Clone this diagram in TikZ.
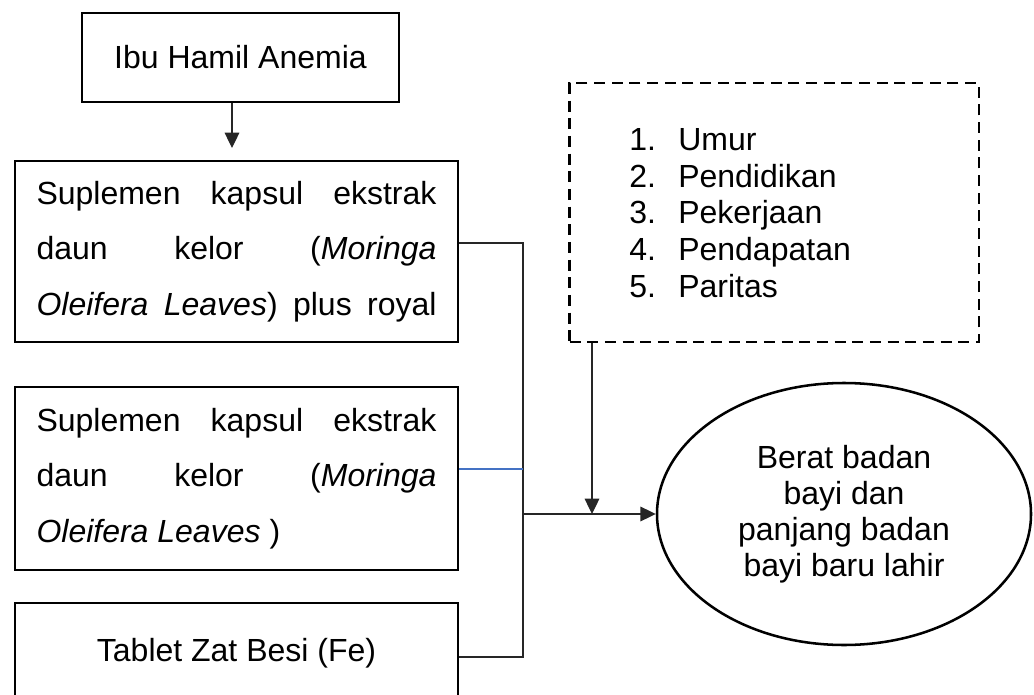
\documentclass[tikz,border=0pt]{standalone}
\usepackage{fontspec}
\setmainfont{Liberation Sans}
\usetikzlibrary{arrows.meta,shapes.geometric}
\definecolor{linkblue}{RGB}{68,114,196}
\begin{document}
\begin{tikzpicture}[x=0.75pt,y=-0.75pt,
  boxnode/.style={draw, line width=1.9pt, minimum width=332.25pt, inner sep=0pt, align=left, font=\fontsize{24pt}{41.6pt}\selectfont},
  conn/.style={line width=0.9pt, draw=black!85},
  arr/.style={conn, -{Triangle[length=11.5pt,width=11pt]}},
 ]
\useasboundingbox (0,0) rectangle (1034,695);
\fill[white] (0,0) rectangle (1034,695);

\node[draw, line width=1.9pt, minimum width=237.75pt, minimum height=66.75pt, inner sep=0pt, font=\fontsize{24pt}{27pt}\selectfont] (b1) at (240.5,57.5) {Ibu Hamil Anemia};

\node[boxnode, minimum height=135.75pt] (b2) at (236.5,251.5) {\makebox[300pt][s]{Suplemen\hfill kapsul\hfill ekstrak}\\ \makebox[300pt][s]{daun\hfill kelor\hfill (\textit{Moringa}}\\ \makebox[300pt][s]{\textit{Oleifera}\hfill\textit{Leaves})\hfill plus\hfill royal}};

\node[boxnode, minimum height=137.25pt] (b3) at (236.5,478.5) {\makebox[300pt][s]{Suplemen\hfill kapsul\hfill ekstrak}\\ \makebox[300pt][s]{daun\hfill kelor\hfill (\textit{Moringa}}\\ \makebox[300pt][l]{\textit{Oleifera Leaves} )}};

\node[boxnode, minimum height=76pt, align=center] (b4) at (236.5,653.7) {Tablet Zat Besi (Fe)};

\node[draw, line width=1.9pt, dash pattern=on 8.25pt off 5pt, minimum width=307pt, minimum height=194.25pt, inner sep=0pt] (dash) at (774.25,212.5) {};
\node[anchor=base west, inner sep=0pt, align=left, font=\fontsize{24pt}{27.5pt}\selectfont] (list) at (629,297) {\makebox[36.75pt][l]{1.}Umur\\ \makebox[36.75pt][l]{2.}Pendidikan\\ \makebox[36.75pt][l]{3.}Pekerjaan\\ \makebox[36.75pt][l]{4.}Pendapatan\\ \makebox[36.75pt][l]{5.}Paritas};

\node[ellipse, draw, line width=1.9pt, minimum width=280.5pt, minimum height=196.5pt, inner sep=0pt, align=center, font=\fontsize{24pt}{27pt}\selectfont] (ell) at (844,514) {Berat badan\\bayi dan\\panjang badan\\bayi baru lahir};

\coordinate (a1) at (232,148);
\coordinate (jx) at (523,0);
\coordinate (y2) at (0,243);
\coordinate (y3) at (0,469);
\coordinate (y4) at (0,657);
\coordinate (yc) at (0,514);
\coordinate (xd) at (592,0);

\draw[arr] (b1.south -| a1) -- (a1);
\draw[conn] (b2.east |- y2) -- (jx |- y2) -- (jx |- y4) -- (b4.east |- y4);
\draw[conn, draw=linkblue] (b3.east |- y3) -- (jx |- y3);
\draw[arr] (jx |- yc) -- (ell.west);
\draw[arr] (dash.south -| xd) -- (xd |- yc);
\end{tikzpicture}
\end{document}
